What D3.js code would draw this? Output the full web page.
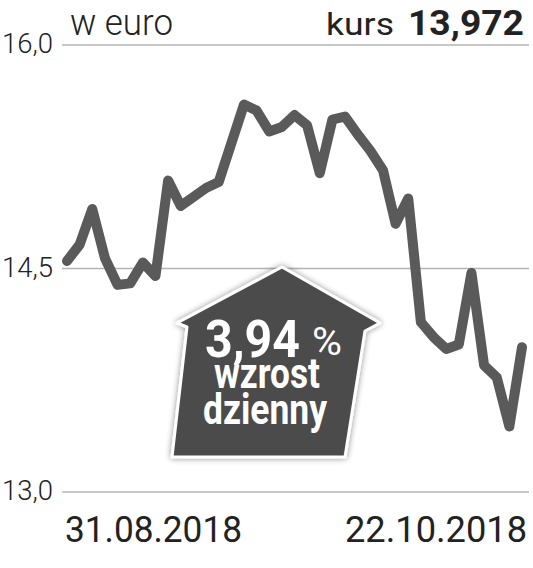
<!DOCTYPE html>
<html>
<head>
<meta charset="utf-8">
<script src="https://cdn.jsdelivr.net/npm/d3@7"></script>
<style>
  body { margin: 0; background: #fff; }
  svg { display: block; font-family: Roboto, "Noto Sans", sans-serif; }
</style>
</head>
<body>
<svg id="plot" width="533" height="568"></svg>
<script>
"use strict";

// trading days 31.08.2018 - 22.10.2018
const dates = [
  "31.08", "03.09", "04.09", "05.09", "06.09", "07.09", "10.09", "11.09", "12.09",
  "13.09", "14.09", "17.09", "18.09", "19.09", "20.09", "21.09", "24.09", "25.09",
  "26.09", "27.09", "28.09", "01.10", "02.10", "03.10", "04.10", "05.10", "08.10",
  "09.10", "10.10", "11.10", "12.10", "15.10", "16.10", "17.10", "18.10", "19.10", "22.10"
];
const prices = [
  14.55, 14.66, 14.90, 14.57, 14.39, 14.40, 14.54, 14.45, 15.09,
  14.92, 14.98, 15.04, 15.08, 15.34, 15.60, 15.56, 15.42, 15.45,
  15.53, 15.46, 15.14, 15.50, 15.52, 15.40, 15.29, 15.16, 14.80,
  14.97, 14.14, 14.04, 13.96, 13.99, 14.47, 13.85, 13.77, 13.44, 13.972
];
const yTicks = [13.0, 14.5, 16.0];
const xLabels = ["31.08.2018", "22.10.2018"];
const unitLabel = "w euro";
const lastPrice = "13,972";
const dailyChange = "3,94";

const width = 533, height = 568;
const svg = d3.select("svg#plot");

const x = d3.scalePoint().domain(dates).range([67, 522]);
const y = d3.scaleLinear().domain([13, 16]).range([492, 45]);
const fmt = (v) => d3.format(".1f")(v).replace(".", ",");

// grid
const grid = svg.append("g");
grid.selectAll("line")
  .data(yTicks)
  .enter()
  .append("line")
  .attr("x1", 62)
  .attr("x2", 529)
  .attr("y1", (d) => y(d))
  .attr("y2", (d) => y(d))
  .attr("stroke", "#b4b4b4")
  .attr("stroke-width", 1.6);

grid.selectAll("text")
  .data(yTicks)
  .enter()
  .append("text")
  .attr("x", 2)
  .attr("y", (d) => y(d) + 8)
  .attr("font-size", 28)
  .attr("font-weight", 300)
  .attr("fill", "#222")
  .attr("textLength", 51)
  .attr("lengthAdjust", "spacingAndGlyphs")
  .text(fmt);

// header
svg.append("text")
  .attr("x", 70)
  .attr("y", 35)
  .attr("font-size", 37)
  .attr("font-weight", 300)
  .attr("fill", "#222")
  .attr("textLength", 103)
  .attr("lengthAdjust", "spacingAndGlyphs")
  .text(unitLabel);

svg.append("text")
  .attr("x", 326)
  .attr("y", 35)
  .attr("font-size", 32)
  .attr("fill", "#222")
  .attr("textLength", 68)
  .attr("lengthAdjust", "spacingAndGlyphs")
  .text("kurs");

svg.append("text")
  .attr("x", 408)
  .attr("y", 35)
  .attr("font-size", 35)
  .attr("font-weight", 700)
  .attr("fill", "#222")
  .attr("textLength", 116)
  .attr("lengthAdjust", "spacingAndGlyphs")
  .text(lastPrice);

// line
const line = d3.line()
  .x((d, i) => x(dates[i]))
  .y((d) => y(d));

svg.append("path")
  .datum(prices)
  .attr("d", line)
  .attr("fill", "none")
  .attr("stroke", "#5a5a5a")
  .attr("stroke-width", 10)
  .attr("stroke-linejoin", "round")
  .attr("stroke-linecap", "round");

// bottom date labels
svg.append("text")
  .attr("x", 65)
  .attr("y", 542)
  .attr("font-size", 36)
  .attr("fill", "#222")
  .attr("textLength", 177)
  .attr("lengthAdjust", "spacingAndGlyphs")
  .text(xLabels[0]);

svg.append("text")
  .attr("x", 345)
  .attr("y", 542)
  .attr("font-size", 36)
  .attr("fill", "#222")
  .attr("textLength", 182)
  .attr("lengthAdjust", "spacingAndGlyphs")
  .text(xLabels[1]);

// arrow badge
const defs = svg.append("defs");
const filt = defs.append("filter")
  .attr("id", "shadow")
  .attr("x", "-20%").attr("y", "-20%")
  .attr("width", "140%").attr("height", "140%");
filt.append("feGaussianBlur").attr("in", "SourceAlpha").attr("stdDeviation", 3).attr("result", "blur");
filt.append("feOffset").attr("in", "blur").attr("dx", 0).attr("dy", 0).attr("result", "off");
filt.append("feComponentTransfer").attr("in", "off").attr("result", "soft")
  .append("feFuncA").attr("type", "linear").attr("slope", 0.45);
const merge = filt.append("feMerge");
merge.append("feMergeNode").attr("in", "soft");
merge.append("feMergeNode").attr("in", "SourceGraphic");

const badgePts = [
  [282, 267], [380, 323], [365, 331], [345, 457],
  [172, 457], [187, 327], [177, 323]
];
svg.append("path")
  .attr("d", d3.line()(badgePts) + "Z")
  .attr("fill", "#4b4b4b")
  .attr("stroke", "#fff")
  .attr("stroke-width", 3)
  .attr("stroke-linejoin", "round")
  .attr("filter", "url(#shadow)");

const badge = svg.append("g").attr("fill", "#fff");
badge.append("text")
  .attr("x", 205).attr("y", 357)
  .attr("font-size", 52).attr("font-weight", 700)
  .attr("textLength", 95).attr("lengthAdjust", "spacingAndGlyphs")
  .text(dailyChange);
badge.append("text")
  .attr("x", 312).attr("y", 355)
  .attr("font-size", 38)
  .attr("textLength", 30).attr("lengthAdjust", "spacingAndGlyphs")
  .text("%");
badge.append("text")
  .attr("x", 214).attr("y", 388)
  .attr("font-size", 42).attr("font-weight", 700)
  .attr("textLength", 106).attr("lengthAdjust", "spacingAndGlyphs")
  .text("wzrost");
badge.append("text")
  .attr("x", 203).attr("y", 424)
  .attr("font-size", 42).attr("font-weight", 700)
  .attr("textLength", 124).attr("lengthAdjust", "spacingAndGlyphs")
  .text("dzienny");
</script>
</body>
</html>
